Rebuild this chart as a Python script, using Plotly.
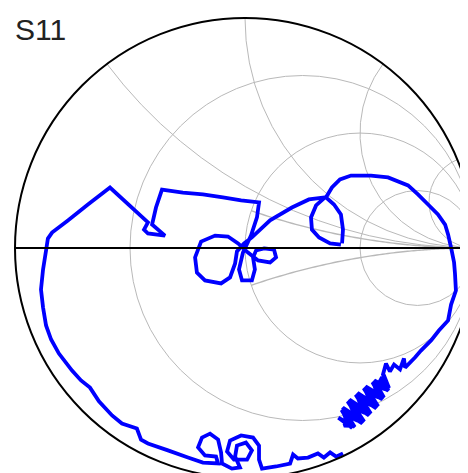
import numpy as np
import plotly.graph_objects as go

gamma_re = [0.422, 0.426, 0.417, 0.387, 0.352,
            0.378, 0.413, 0.461, 0.548, 0.622, 0.709, 0.752, 0.796, 0.839, 0.870,
            0.883, 0.896, 0.909, 0.913, 0.917, 0.896, 0.883, 0.843, 0.809, 0.765,
            0.739, 0.696,
            0.691, 0.674, 0.648, 0.630, 0.613, 0.600,
            0.604, 0.626, 0.562, 0.604, 0.524, 0.579, 0.489, 0.547, 0.454, 0.518,
            0.425, 0.477, 0.406,
            0.466, 0.420, 0.510, 0.446, 0.539, 0.481, 0.571, 0.516, 0.597, 0.554,
            0.623, 0.596,
            0.543, 0.470, 0.430,
            0.449, 0.431, 0.488, 0.460, 0.519, 0.493, 0.550, 0.528, 0.579, 0.563,
            0.607, 0.600,
            None,
            0.426, 0.396, 0.370, 0.343, 0.317, 0.274, 0.230, 0.209, 0.196, 0.135,
            0.074,
            0.061, 0.061, 0.035, -0.017, -0.065, -0.078, -0.048, 0.009, 0.030,
            0.004, -0.035, -0.043, -0.022, -0.057,
            -0.100, -0.104, -0.117, -0.152, -0.187, -0.204, -0.174, -0.126, -0.117,
            -0.183, -0.248, -0.335, -0.422, -0.452, -0.470, -0.535, -0.578, -0.635,
            -0.674, -0.713, -0.752, -0.809, -0.843, -0.865, -0.878, -0.887, -0.878,
            -0.865, -0.857, -0.839, -0.770, -0.683, -0.587,
            -0.422, -0.439, -0.422, -0.348, -0.404, -0.387, -0.361,
            -0.270, -0.183, -0.096, -0.017, 0.061,
            0.052, 0.026, -0.009, -0.026, -0.013, 0.030, 0.043, 0.035, 0.048,
            0.083, 0.126, 0.135, 0.109, 0.057, 0.013, -0.030, -0.074, -0.130,
            -0.191, -0.217, -0.209, -0.174, -0.104, -0.065, -0.043, -0.035, -0.004,
            0.030, 0.109, 0.204, 0.278, 0.348,
            0.309, 0.287, 0.291, 0.322, 0.370, 0.417]
gamma_im = [0.020, 0.080, 0.146, 0.189, 0.220,
            0.263, 0.298, 0.315, 0.315, 0.307, 0.272, 0.233, 0.189, 0.146, 0.102,
            0.059, 0.002, -0.063, -0.111, -0.185, -0.246, -0.315, -0.359, -0.402, -0.446,
            -0.476, -0.520,
            -0.480, -0.528, -0.507, -0.537, -0.502, -0.550,
            -0.554, -0.609, -0.576, -0.650, -0.602, -0.688, -0.630, -0.720, -0.659, -0.755,
            -0.694, -0.778, -0.738,
            -0.783, -0.705, -0.763, -0.667, -0.728, -0.638, -0.697, -0.610, -0.658, -0.584,
            -0.620, -0.561,
            -0.659, -0.737, -0.772,
            -0.773, -0.723, -0.750, -0.689, -0.716, -0.659, -0.684, -0.629, -0.649, -0.600,
            -0.613, -0.574,
            None,
            -0.893, -0.907, -0.889, -0.911, -0.893, -0.911, -0.915, -0.898, -0.937, -0.950,
            -0.959,
            -0.920, -0.859, -0.824, -0.815, -0.837, -0.885, -0.920, -0.920, -0.880,
            -0.846, -0.859, -0.907, -0.954, -0.959,
            -0.937, -0.889, -0.833, -0.807, -0.824, -0.867, -0.902, -0.907, -0.937,
            -0.933, -0.911, -0.880, -0.850, -0.833, -0.785, -0.763, -0.728, -0.667,
            -0.607, -0.576, -0.533, -0.459, -0.398, -0.337, -0.259, -0.180, -0.093,
            -0.011, 0.041, 0.067, 0.120, 0.189, 0.263,
            0.111, 0.080, 0.063, 0.054, 0.102, 0.176, 0.254,
            0.241, 0.233, 0.220, 0.207, 0.198,
            0.133, 0.054, -0.020, -0.093, -0.141, -0.141, -0.093, -0.041, -0.011,
            -0.002, -0.007, -0.041, -0.063, -0.054, -0.020, 0.020, 0.050, 0.054,
            0.028, -0.041, -0.107, -0.141, -0.154, -0.128, -0.067, -0.015, 0.020,
            0.046, 0.120, 0.176, 0.211, 0.220,
            0.185, 0.133, 0.080, 0.046, 0.020, 0.015]

# Smith chart grid values
resistance_grid = [1 / 3, 1, 3]          # full resistance circles
reactance_grid = [0.5, 1, 2, 5]          # full reactance arcs
reactance_partial = [1 / 3, -1 / 3]      # reactance arcs drawn only for r >= 1
partial_start_r = 1
title_text = "S11"

GRID = "#b9b9b9"

# Convert reflection coefficient to normalized impedance for scattersmith
z_re, z_im = [], []
for gr, gi in zip(gamma_re, gamma_im):
    if gr is None:
        z_re.append(None)
        z_im.append(None)
        continue
    g = complex(gr, gi)
    z = (1 + g) / (1 - g)
    z_re.append(z.real)
    z_im.append(z.imag)

fig = go.Figure()

# partial reactance arcs (grid)
r_path = list(np.geomspace(partial_start_r, 2000, 200))
for xv in reactance_partial:
    fig.add_trace(go.Scattersmith(
        real=r_path, imag=[xv] * len(r_path), mode="lines",
        line=dict(color=GRID, width=1.4), showlegend=False, hoverinfo="skip",
    ))

fig.add_trace(go.Scattersmith(
    real=z_re, imag=z_im, mode="lines",
    line=dict(color="#0000ff", width=3.8),
    connectgaps=False, showlegend=False, hoverinfo="skip",
))

fig.update_layout(
    width=468, height=473,
    margin=dict(l=7, r=1, t=10, b=3),
    paper_bgcolor="white",
    showlegend=False,
    smith=dict(
        bgcolor="white",
        domain=dict(x=[0, 1], y=[0, 1]),
        realaxis=dict(
            tickvals=resistance_grid, showticklabels=False, ticks="",
            showgrid=True, gridcolor=GRID, gridwidth=1.4,
            showline=True, linecolor="black", linewidth=2,
        ),
        imaginaryaxis=dict(
            tickvals=reactance_grid, showticklabels=False, ticks="",
            showgrid=True, gridcolor=GRID, gridwidth=1.4,
            showline=True, linecolor="black", linewidth=2,
        ),
    ),
    annotations=[dict(
        text=title_text, xref="paper", yref="paper", x=0, y=1,
        xanchor="left", yanchor="top", showarrow=False,
        font=dict(family="Liberation Sans, Arial", size=30, color="#222222"),
        xshift=-2, yshift=7,
    )],
)

fig.write_html("out.html")
